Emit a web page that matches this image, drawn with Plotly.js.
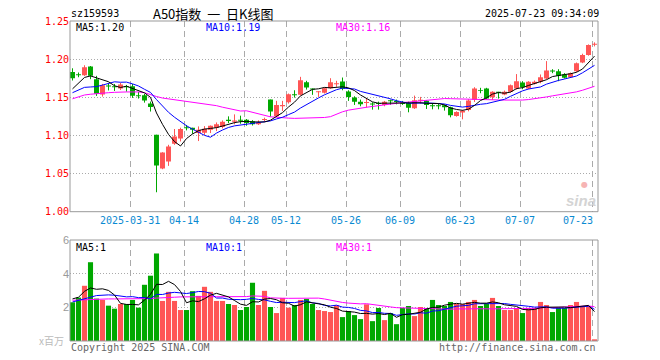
<!DOCTYPE html>
<html><head><meta charset="utf-8">
<script src="https://cdn.plot.ly/plotly-3.0.1.min.js"></script>
<style>html,body{margin:0;padding:0;background:#fff;}#chart{width:660px;height:360px;}</style>
</head><body><div id="chart"></div>
<script>
// ---- data ----
const opens = [1.183,1.1795,1.179,1.1904,1.1737,1.1535,1.1649,1.164,1.1614,1.1645,
1.1645,1.1525,1.1527,1.1418,1.1009,1.0566,1.0658,1.0891,1.096,1.1101,
1.1101,1.1031,1.1036,1.1075,1.1101,1.1109,1.1206,1.118,1.1206,1.1206,
1.1185,1.1145,1.1203,1.147,1.125,1.1382,1.1434,1.1536,1.1532,1.1697,
1.1611,1.1567,1.1558,1.1619,1.1671,1.1707,1.1575,1.1496,1.1443,1.1426,
1.1413,1.1421,1.14,1.1457,1.1448,1.1426,1.1426,1.1355,1.1453,1.1453,
1.1391,1.139,1.1395,1.1368,1.1255,1.1299,1.1334,1.1466,1.1592,1.1614,
1.15,1.1566,1.1536,1.1571,1.1614,1.1693,1.1614,1.1676,1.1703,1.1746,
1.1847,1.1842,1.1799,1.1763,1.1842,1.1957,1.2053,1.2189];
const highs = [1.188,1.1825,1.192,1.191,1.1781,1.1675,1.1689,1.1675,1.1689,1.1662,
1.1675,1.157,1.1545,1.1444,1.1009,1.078,1.0877,1.1084,1.1101,1.1137,
1.1101,1.1118,1.1122,1.113,1.117,1.1197,1.125,1.1276,1.1259,1.1215,
1.12,1.1197,1.1233,1.147,1.1453,1.1453,1.1549,1.1592,1.1768,1.1716,
1.1615,1.158,1.1628,1.175,1.1716,1.1759,1.1592,1.1513,1.147,1.1487,
1.1434,1.1443,1.1452,1.147,1.147,1.1452,1.1443,1.1522,1.1505,1.1461,
1.1421,1.142,1.1404,1.1377,1.1316,1.1334,1.1474,1.1632,1.1624,1.1624,
1.1579,1.1571,1.1588,1.1667,1.1804,1.1711,1.1711,1.172,1.1799,1.1974,
1.1868,1.1868,1.1816,1.1825,1.1956,1.2071,1.2193,1.222];
const lows = [1.172,1.1763,1.178,1.1737,1.1518,1.1509,1.159,1.1583,1.1596,1.1574,
1.1492,1.1483,1.143,1.1313,1.0255,1.0557,1.0601,1.0877,1.0921,1.1066,
1.1022,1.0926,1.1004,1.1031,1.1057,1.1092,1.1162,1.1145,1.1153,1.1127,
1.113,1.1137,1.118,1.1246,1.1242,1.1321,1.1417,1.1496,1.1523,1.1601,
1.1532,1.1505,1.1549,1.1611,1.1637,1.1592,1.1453,1.14,1.1382,1.1364,
1.1338,1.1338,1.1382,1.14,1.1408,1.14,1.1303,1.1347,1.1417,1.1347,
1.1342,1.1342,1.1325,1.1237,1.1246,1.1211,1.1316,1.1439,1.1553,1.1474,
1.1466,1.1483,1.1527,1.1562,1.1601,1.1606,1.1606,1.1667,1.1684,1.1737,
1.1816,1.1711,1.1746,1.1755,1.1829,1.1947,1.2045,1.2167];
const closes = [1.175,1.179,1.1895,1.1781,1.1545,1.1658,1.164,1.1632,1.1667,1.163,
1.152,1.1515,1.1457,1.1374,1.0605,1.0776,1.0855,1.0987,1.1084,1.1093,
1.1075,1.1075,1.1088,1.1127,1.1145,1.118,1.1189,1.1197,1.1193,1.1162,
1.1145,1.117,1.1211,1.1312,1.14,1.14,1.154,1.1527,1.1724,1.1628,
1.1601,1.1575,1.1619,1.1697,1.1684,1.1611,1.1505,1.1443,1.1408,1.1439,
1.1404,1.1413,1.1443,1.1448,1.1439,1.1413,1.1364,1.146,1.1466,1.14,
1.1382,1.1382,1.1368,1.1263,1.1307,1.1325,1.1457,1.1614,1.1584,1.1483,
1.1571,1.1558,1.1571,1.1658,1.1711,1.1632,1.1703,1.1703,1.1763,1.1851,
1.1838,1.1782,1.1755,1.1816,1.1947,1.2053,1.2184,1.2197];
const volumes = [2.3,2.58,3.28,4.68,2.52,2.44,2.1,1.92,2.2,2.2,
2.44,1.98,3.34,3.88,5.2,2.38,2.92,2.38,1.84,1.84,
2.96,2.68,3.22,2.92,2.38,2.38,2.2,2.14,1.84,2.02,
3.46,2.14,2.98,2.02,1.66,2.56,1.98,2.14,2.44,2.5,
2.2,1.84,1.78,1.72,2.12,1.42,1.78,1.54,1.3,2.18,
1.18,1.96,1.24,1.66,1.0,1.96,2.08,1.48,2.02,1.96,
2.44,2.14,2.08,2.32,2.2,2.2,2.32,2.44,2.08,2.2,
2.56,2.08,1.84,1.84,1.96,1.66,1.96,1.96,2.32,2.14,
1.72,1.96,1.96,2.14,2.32,2.08,2.08,0.1];
// moving-average values visible before enough in-window data exists
const ma5Lead = [1.161,1.168,1.176,1.178];
const ma10Lead = [1.156,1.159,1.163,1.1635,1.164,1.166,1.168,1.1703,1.1697];
const ma30Lead = [1.148,1.151,1.153,1.154,1.155,1.1555,1.156,1.1565,1.157,1.157,
1.157,1.157,1.156,1.153,1.151,1.149,1.148,1.146,1.145,1.144,
1.143,1.142,1.141,1.140,1.139,1.137,1.135,1.133,1.132];
const vma5Lead = [2.5,2.6,2.95,3.15];
const vma10Lead = [2.32,2.4,2.5,2.6,2.7,2.74,2.74,2.72,2.65];
const vma30Lead = [2.42,2.44,2.46,2.48,2.5,2.5,2.5,2.5,2.5,2.5,
2.5,2.5,2.5,2.52,2.55,2.58,2.6,2.6,2.62,2.63,
2.63,2.63,2.63,2.63,2.63,2.63,2.62,2.6,2.6];
const tickIdx = [10,19,29,36,46,55,65,75,87];
const tickText = ['2025-03-31','04-14','04-28','05-12','05-26','06-09','06-23','07-07','07-23'];
const priceTicks = [1.00,1.05,1.10,1.15,1.20,1.25];
const volTicks = [2,4,6];
const legendTop = ['MA5:1.20','MA10:1.19','MA30:1.16'];
const legendVol = ['MA5:1','MA10:1','MA30:1'];

// ---- build ----
const UP = '#ff5555', DN = '#00a800';
const idx = closes.map((_, i) => i);
const isUp = closes.map((c, i) => c >= opens[i]);
const colors = isUp.map(u => u ? UP : DN);
function mavg(vals, n, lead) {
  return vals.map((_, i) => {
    if (i < n - 1) return lead[i];
    let s = 0; for (let j = i - n + 1; j <= i; j++) s += vals[j];
    return s / n;
  });
}
function wick(up) {
  const x = [], y = [];
  idx.forEach(i => { if (isUp[i] === up) { x.push(i, i, null); y.push(lows[i], highs[i], null); } });
  return {type:'scatter', mode:'lines', x, y, xaxis:'x', yaxis:'y', line:{color: up ? UP : DN, width:1}, hoverinfo:'skip'};
}
const bodyBase = idx.map(i => Math.min(opens[i], closes[i]));
const bodyH = idx.map(i => Math.max(Math.abs(closes[i] - opens[i]), 0.0013));

const W = 660, H = 360, L = 70, R = 62, T = 21, B = 19;
const px = x => (x - L) / (W - L - R);
const py = y => (H - B - y) / (H - T - B);

const traces = [
  wick(true), wick(false),
  {type:'bar', x: idx, y: bodyH, base: bodyBase, width: 0.83, xaxis:'x', yaxis:'y', marker:{color: colors, line:{width:0}}},
  {type:'scatter', mode:'lines', x: idx, y: mavg(closes, 30, ma30Lead), xaxis:'x', yaxis:'y', line:{color:'#ff00ff', width:1}},
  {type:'scatter', mode:'lines', x: idx, y: mavg(closes, 10, ma10Lead), xaxis:'x', yaxis:'y', line:{color:'#0000ff', width:1}},
  {type:'scatter', mode:'lines', x: idx, y: mavg(closes, 5, ma5Lead), xaxis:'x', yaxis:'y', line:{color:'#000000', width:1}},
  {type:'bar', x: idx, y: volumes, width: 0.85, xaxis:'x', yaxis:'y2', marker:{color: colors, line:{width:0}}},
  {type:'scatter', mode:'lines', x: idx, y: mavg(volumes, 30, vma30Lead), xaxis:'x', yaxis:'y2', line:{color:'#ff00ff', width:1}},
  {type:'scatter', mode:'lines', x: idx, y: mavg(volumes, 10, vma10Lead), xaxis:'x', yaxis:'y2', line:{color:'#0000ff', width:1}},
  {type:'scatter', mode:'lines', x: idx, y: mavg(volumes, 5, vma5Lead), xaxis:'x', yaxis:'y2', line:{color:'#000000', width:1}}
];

const mono = 'DejaVu Sans Mono';
const ann = [];
function txt(text, x, y, color, opt) {
  ann.push(Object.assign({text, x: px(x), y: py(y), xref:'paper', yref:'paper', showarrow:false,
    xanchor:'left', yanchor:'middle', font:{family: mono, size:10, color}}, opt || {}));
}
txt('sz159593', 69, 13, '#000');
txt('A50指数\u00a0\u00a0一\u00a0\u00a0日K线图', 151, 13, '#000', {font:{family:'Noto Sans CJK SC', size:13, color:'#000'}});
txt('2025-07-23 09:34:09', 601, 13, '#000', {xanchor:'right'});
const legColors = ['#000000','#0000ff','#ff00ff'];
const legX = [74, 204, 334];
legendTop.forEach((t, i) => txt(t, legX[i], 28, legColors[i]));
legendVol.forEach((t, i) => txt(t, legX[i], 247, legColors[i]));
txt('x百万', 66, 340, '#bbbbbb', {xanchor:'right', font:{family:'Noto Sans CJK SC', size:10, color:'#bbbbbb'}});
txt('Copyright 2025 SINA.COM', 69, 347, '#666');
txt('http://finance.sina.com.cn', 598, 347, '#666', {xanchor:'right'});
txt('<b><i>sina</i></b>', 581, 200, '#d4d4d4', {xanchor:'center', font:{family:'Liberation Sans', size:15, color:'#d4d4d4'}});
txt('●', 584, 184, '#f6b4b4', {xanchor:'center', font:{family:'DejaVu Sans', size:8, color:'#f6b4b4'}});
tickIdx.forEach((k, i) => {
  const last = i === tickIdx.length - 1;
  ann.push({text: tickText[i], x: last ? k + 0.1 : k - 0.4, y: py(220), xref:'x', yref:'paper', showarrow:false,
    xanchor: last ? 'right' : 'center', yanchor:'middle', font:{family: mono, size:10, color:'#0a8ad2'}});
});

const layout = {
  width: W, height: H, margin:{l:L, r:R, t:T, b:B, pad:0},
  paper_bgcolor:'#fff', plot_bgcolor:'#fff', showlegend:false, barmode:'overlay',
  xaxis:{range:[-0.417, 87.583], anchor:'y', showticklabels:false, ticks:'', tickvals: tickIdx.map(k => k - 0.4),
    showgrid:true, gridcolor:'#aaaaaa', gridwidth:1, griddash:'6px,4px', zeroline:false, showline:false, fixedrange:true},
  yaxis:{domain:[py(211.7), 1], range:[1.0, 1.25], tickvals: priceTicks, ticktext: priceTicks.map(v => v.toFixed(2)),
    tickfont:{family: mono, size:10, color:'#ff0000'}, ticks:'', showgrid:true, gridcolor:'#aaaaaa', griddash:'1px,2px',
    zeroline:false, showline:false},
  yaxis2:{domain:[0, py(240)], range:[0, 6], tickvals: volTicks, ticktext: volTicks.map(String),
    tickfont:{family:'Liberation Sans', size:11, color:'#999999'}, ticks:'', showgrid:true, gridcolor:'#aaaaaa', griddash:'1px,2px',
    zeroline:false, showline:false, anchor:'x'},
  shapes:[
    {type:'rect', xref:'paper', yref:'paper', x0:0, x1:1, y0:py(211.7), y1:1, line:{color:'#999999', width:1}, layer:'above'},
    {type:'rect', xref:'paper', yref:'paper', x0:0, x1:1, y0:0, y1:py(240), line:{color:'#999999', width:1}, layer:'above'}
  ],
  annotations: ann
};
Plotly.newPlot('chart', traces, layout, {staticPlot:true, displayModeBar:false});
</script></body></html>
